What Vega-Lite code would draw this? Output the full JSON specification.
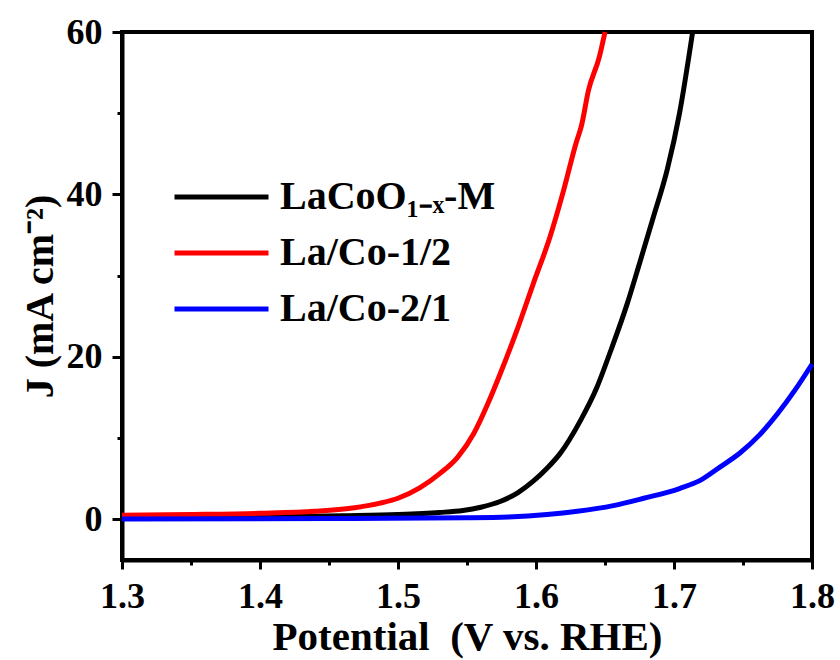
{
  "$schema": "https://vega.github.io/schema/vega-lite/v6.json",
  "width": 690,
  "height": 528,
  "autosize": {"type": "none"},
  "padding": {"left": 122, "top": 32, "right": 28, "bottom": 100},
  "background": "white",
  "config": {
    "view": {"stroke": "black", "strokeWidth": 4},
    "font": "Liberation Serif"
  },
  "data": {
    "values": [
      {"s": "LaCoO₁₋ₓ-M", "V": 1.30, "J": 0.2},
      {"s": "LaCoO₁₋ₓ-M", "V": 1.40, "J": 0.3},
      {"s": "LaCoO₁₋ₓ-M", "V": 1.46, "J": 0.45},
      {"s": "LaCoO₁₋ₓ-M", "V": 1.50, "J": 0.6},
      {"s": "LaCoO₁₋ₓ-M", "V": 1.53, "J": 0.85},
      {"s": "LaCoO₁₋ₓ-M", "V": 1.547, "J": 1.1},
      {"s": "LaCoO₁₋ₓ-M", "V": 1.56, "J": 1.5},
      {"s": "LaCoO₁₋ₓ-M", "V": 1.574, "J": 2.2},
      {"s": "LaCoO₁₋ₓ-M", "V": 1.587, "J": 3.3},
      {"s": "LaCoO₁₋ₓ-M", "V": 1.598, "J": 4.7},
      {"s": "LaCoO₁₋ₓ-M", "V": 1.608, "J": 6.3},
      {"s": "LaCoO₁₋ₓ-M", "V": 1.617, "J": 8.0},
      {"s": "LaCoO₁₋ₓ-M", "V": 1.632, "J": 12.1},
      {"s": "LaCoO₁₋ₓ-M", "V": 1.644, "J": 16.2},
      {"s": "LaCoO₁₋ₓ-M", "V": 1.654, "J": 20.7},
      {"s": "LaCoO₁₋ₓ-M", "V": 1.666, "J": 26.5},
      {"s": "LaCoO₁₋ₓ-M", "V": 1.675, "J": 31.5},
      {"s": "LaCoO₁₋ₓ-M", "V": 1.685, "J": 37.2},
      {"s": "LaCoO₁₋ₓ-M", "V": 1.695, "J": 43.0},
      {"s": "LaCoO₁₋ₓ-M", "V": 1.704, "J": 50.0},
      {"s": "LaCoO₁₋ₓ-M", "V": 1.7135, "J": 60.0},
      {"s": "La/Co-1/2", "V": 1.30, "J": 0.5},
      {"s": "La/Co-1/2", "V": 1.35, "J": 0.6},
      {"s": "La/Co-1/2", "V": 1.40, "J": 0.75},
      {"s": "La/Co-1/2", "V": 1.44, "J": 1.0},
      {"s": "La/Co-1/2", "V": 1.467, "J": 1.4},
      {"s": "La/Co-1/2", "V": 1.487, "J": 2.0},
      {"s": "La/Co-1/2", "V": 1.50, "J": 2.6},
      {"s": "La/Co-1/2", "V": 1.516, "J": 3.9},
      {"s": "La/Co-1/2", "V": 1.53, "J": 5.6},
      {"s": "La/Co-1/2", "V": 1.543, "J": 7.6},
      {"s": "La/Co-1/2", "V": 1.555, "J": 10.6},
      {"s": "La/Co-1/2", "V": 1.565, "J": 14.2},
      {"s": "La/Co-1/2", "V": 1.574, "J": 17.9},
      {"s": "La/Co-1/2", "V": 1.586, "J": 23.2},
      {"s": "La/Co-1/2", "V": 1.598, "J": 29.0},
      {"s": "La/Co-1/2", "V": 1.610, "J": 34.7},
      {"s": "La/Co-1/2", "V": 1.620, "J": 40.5},
      {"s": "La/Co-1/2", "V": 1.629, "J": 46.3},
      {"s": "La/Co-1/2", "V": 1.633, "J": 48.5},
      {"s": "La/Co-1/2", "V": 1.638, "J": 52.8},
      {"s": "La/Co-1/2", "V": 1.646, "J": 57.0},
      {"s": "La/Co-1/2", "V": 1.650, "J": 60.0},
      {"s": "La/Co-2/1", "V": 1.30, "J": 0.05},
      {"s": "La/Co-2/1", "V": 1.45, "J": 0.1},
      {"s": "La/Co-2/1", "V": 1.55, "J": 0.2},
      {"s": "La/Co-2/1", "V": 1.58, "J": 0.3},
      {"s": "La/Co-2/1", "V": 1.608, "J": 0.6},
      {"s": "La/Co-2/1", "V": 1.63, "J": 1.0},
      {"s": "La/Co-2/1", "V": 1.656, "J": 1.7},
      {"s": "La/Co-2/1", "V": 1.678, "J": 2.6},
      {"s": "La/Co-2/1", "V": 1.704, "J": 3.8},
      {"s": "La/Co-2/1", "V": 1.719, "J": 4.8},
      {"s": "La/Co-2/1", "V": 1.733, "J": 6.4},
      {"s": "La/Co-2/1", "V": 1.748, "J": 8.2},
      {"s": "La/Co-2/1", "V": 1.762, "J": 10.4},
      {"s": "La/Co-2/1", "V": 1.775, "J": 13.0},
      {"s": "La/Co-2/1", "V": 1.788, "J": 16.0},
      {"s": "La/Co-2/1", "V": 1.80, "J": 19.1}
    ]
  },
  "layer": [
    {
      "mark": {"type": "line", "opacity": 0},
      "encoding": {
        "x": {
          "field": "V", "type": "quantitative",
          "scale": {"domain": [1.3, 1.8], "nice": false, "zero": false},
          "axis": {"orient": "bottom", "values": [1.35, 1.45, 1.55, 1.65, 1.75], "labels": false, "domain": false, "grid": false, "tickSize": 5, "tickWidth": 3, "tickColor": "black", "title": null}
        },
        "y": {
          "field": "J", "type": "quantitative",
          "scale": {"domain": [-5, 60], "nice": false, "zero": false},
          "axis": {"orient": "left", "values": [10, 30, 50], "labels": false, "domain": false, "grid": false, "tickSize": 5, "tickWidth": 3, "tickColor": "black", "title": null}
        }
      }
    },
    {
      "mark": {"type": "line", "strokeWidth": 5, "interpolate": "monotone"},
      "encoding": {
        "x": {
          "field": "V", "type": "quantitative",
          "axis": {
            "orient": "bottom", "values": [1.3, 1.4, 1.5, 1.6, 1.7, 1.8], "format": ".1f",
            "grid": false, "domainColor": "black", "domainWidth": 4,
            "tickColor": "black", "tickWidth": 3, "tickSize": 9,
            "labelFontSize": 36, "labelFontWeight": "bold", "labelColor": "black", "labelFont": "Liberation Serif",
            "labelPadding": 10, "labelFlush": false,
            "title": "Potential\u00a0 (V vs. RHE)", "titleFontSize": 41, "titleFontWeight": "bold", "titleColor": "black", "titleFont": "Liberation Serif", "titlePadding": 3
          }
        },
        "y": {
          "field": "J", "type": "quantitative",
          "axis": {
            "orient": "left", "values": [0, 20, 40, 60],
            "grid": false, "domainColor": "black", "domainWidth": 4,
            "tickColor": "black", "tickWidth": 3, "tickSize": 10,
            "labelFontSize": 36, "labelFontWeight": "bold", "labelColor": "black", "labelFont": "Liberation Serif",
            "labelPadding": 10, "labelFlush": false,
            "title": "J (mA cm⁻²)", "titleFontSize": 40, "titleFontWeight": "bold", "titleColor": "black", "titleFont": "Liberation Serif", "titlePadding": 6
          }
        },
        "color": {
          "field": "s", "type": "nominal",
          "scale": {"domain": ["LaCoO₁₋ₓ-M", "La/Co-1/2", "La/Co-2/1"], "range": ["#000000", "#ff0000", "#0000ff"]},
          "legend": {
            "orient": "none", "legendX": 50, "legendY": 140, "title": null, "padding": 0,
            "symbolType": "stroke", "symbolSize": 8836, "symbolStrokeWidth": 5,
            "labelFontSize": 40, "labelFontWeight": "bold", "labelColor": "black", "labelFont": "Liberation Serif",
            "labelOffset": 9, "rowPadding": 6, "clipHeight": 50, "labelLimit": 0
          }
        }
      }
    }
  ],
  "resolve": {"axis": {"x": "independent", "y": "independent"}}
}
